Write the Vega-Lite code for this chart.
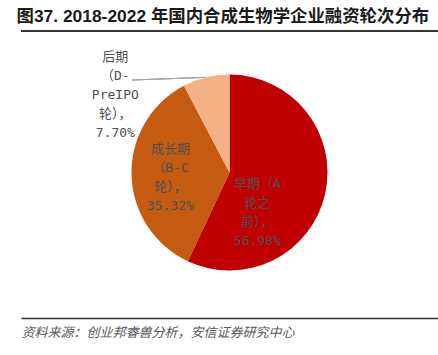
{
  "$schema": "https://vega.github.io/schema/vega-lite/v6.json",
  "width": 417,
  "height": 287,
  "autosize": {"type": "none"},
  "padding": {"left": 21, "top": 31, "right": 0, "bottom": 37},
  "background": "white",
  "config": {"view": {"stroke": null}},
  "title": {
    "text": "图37. 2018-2022 年国内合成生物学企业融资轮次分布",
    "anchor": "start",
    "offset": 5,
    "fontSize": 17.4,
    "fontWeight": "bold",
    "font": "Liberation Sans, Noto Sans CJK SC",
    "color": "#1a1a1a"
  },
  "data": {
    "values": [
      {"idx": 1, "cat": "早期", "value": 56.98, "lbl": "早期（A\n轮之\n前），\n56.98%"},
      {"idx": 2, "cat": "成长期", "value": 35.32, "lbl": "成长期\n（B-C\n轮），\n35.32%"},
      {"idx": 3, "cat": "后期", "value": 7.70, "lbl": "后期\n（D-\nPreIPO\n轮），\n7.70%"}
    ]
  },
  "layer": [
    {
      "mark": {"type": "arc", "outerRadius": 98, "yOffset": -2, "strokeWidth": 0},
      "encoding": {
        "theta": {"field": "value", "type": "quantitative", "stack": true},
        "order": {"field": "idx", "type": "quantitative"},
        "color": {
          "field": "cat", "type": "nominal", "legend": null,
          "scale": {"domain": ["早期", "成长期", "后期"], "range": ["#C00000", "#C55A11", "#F4B183"]}
        }
      }
    },
    {
      "mark": {"type": "text", "radius": 50, "dx": -21, "dy": -1.5, "align": "center", "baseline": "middle", "lineBreak": "\n", "lineHeight": 19, "fontSize": 13, "font": "DejaVu Sans Mono, Noto Sans CJK SC", "color": "#505050"},
      "encoding": {
        "theta": {"field": "value", "type": "quantitative", "stack": true},
        "order": {"field": "idx", "type": "quantitative"},
        "text": {"condition": {"test": "datum.cat === '早期'", "field": "lbl"}, "value": ""}
      }
    },
    {
      "mark": {"type": "text", "radius": 59, "dx": 0, "dy": -26.5, "align": "center", "baseline": "middle", "lineBreak": "\n", "lineHeight": 19, "fontSize": 13, "font": "DejaVu Sans Mono, Noto Sans CJK SC", "color": "#505050"},
      "encoding": {
        "theta": {"field": "value", "type": "quantitative", "stack": true},
        "order": {"field": "idx", "type": "quantitative"},
        "text": {"condition": {"test": "datum.cat === '成长期'", "field": "lbl"}, "value": ""}
      }
    },
    {
      "mark": {"type": "text", "radius": 130, "dx": -83, "dy": 9, "align": "center", "baseline": "middle", "lineBreak": "\n", "lineHeight": 19, "fontSize": 13, "font": "DejaVu Sans Mono, Noto Sans CJK SC", "color": "#505050"},
      "encoding": {
        "theta": {"field": "value", "type": "quantitative", "stack": true},
        "order": {"field": "idx", "type": "quantitative"},
        "text": {"condition": {"test": "datum.cat === '后期'", "field": "lbl"}, "value": ""}
      }
    },
    {
      "mark": {"type": "rule", "color": "#A6A6A6", "strokeWidth": 1},
      "encoding": {
        "x": {"datum": -0.995, "type": "quantitative",
          "scale": {"domain": [-2.1276, 2.1276], "nice": false, "zero": false},
          "axis": {
            "title": "资料来源：创业邦睿兽分析，安信证券研究中心",
            "titleAnchor": "start",
            "titleFontStyle": "italic",
            "titleFontWeight": "normal",
            "titleFontSize": 13,
            "titleFont": "Noto Sans CJK SC",
            "titleColor": "#595959",
            "titlePadding": 8,
            "labels": false,
            "ticks": false,
            "grid": false,
            "domainColor": "#333333",
            "domainWidth": 1.5
          }
        },
        "x2": {"datum": -0.245},
        "y": {"datum": 0.964, "type": "quantitative",
          "scale": {"domain": [-1.4643, 1.4643], "nice": false, "zero": false},
          "axis": null
        },
        "y2": {"datum": 0.991}
      }
    },
    {
      "mark": {"type": "rule", "color": "#333333", "strokeWidth": 1.5},
      "encoding": {
        "y": {"datum": 1.4643, "type": "quantitative"}
      }
    }
  ]
}
